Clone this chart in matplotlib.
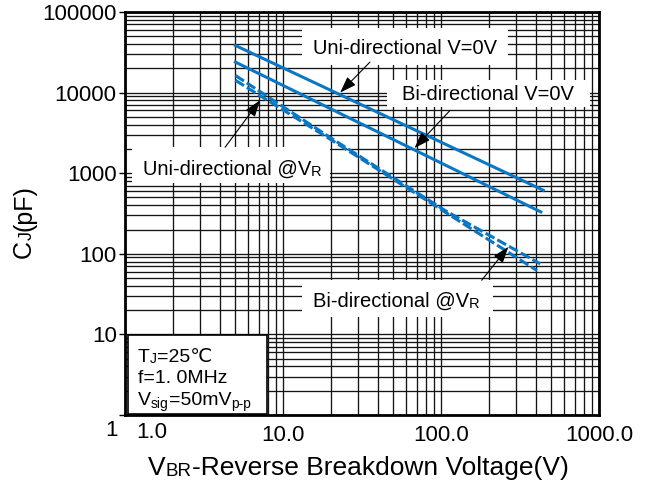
import matplotlib.pyplot as plt
from matplotlib.patches import Rectangle

plt.rcParams['font.family'] = ['Liberation Sans', 'DejaVu Sans']

# Junction capacitance vs breakdown voltage
uni_0v_volt = [5, 444]
uni_0v_cap = [38400, 614]
bi_0v_volt = [5, 428]
bi_0v_cap = [23900, 331]
uni_vr_volt = [5, 20, 106, 425]
uni_vr_cap = [16300, 2750, 345, 75]
bi_vr_volt = [5, 20, 106, 405]
bi_vr_cap = [14200, 2620, 330, 62]

x_ticks = [1, 10, 100, 1000]
x_tick_labels = ['1.0', '10.0', '100.0', '1000.0']
y_ticks = [1, 10, 100, 1000, 10000, 100000]
y_tick_labels = ['1', '10', '100', '1000', '10000', '100000']

BLUE = '#0a77c5'
W, H = 660, 484

fig = plt.figure(figsize=(W / 100, H / 100), dpi=100)
ax = fig.add_axes([125 / W, 1 - 415 / H, 474 / W, 403 / H])
ax.set_xscale('log')
ax.set_yscale('log')
ax.set_xlim(1, 1000)
ax.set_ylim(1, 100000)
ax.set_axisbelow(True)
ax.grid(which='both', color='#141414', lw=0.95)

# the first label on each axis sits off its tick, so it is drawn by hand
ax.set_xticks(x_ticks)
ax.set_xticklabels([''] + x_tick_labels[1:])
ax.set_yticks(y_ticks)
ax.set_yticklabels([''] + y_tick_labels[1:])
ax.tick_params(which='minor', length=0)
ax.tick_params(axis='y', which='major', direction='out', length=4, width=1, pad=2, labelsize=16)
ax.tick_params(axis='x', which='major', length=0, pad=7, labelsize=16)
for sp in ax.spines.values():
    sp.set_linewidth(2)
fig.text(118 / W, 1 - 430 / H, y_tick_labels[0], fontsize=16, ha='right', va='center')
fig.text(152 / W, 1 - 433 / H, x_tick_labels[0], fontsize=16, ha='center', va='center')

ax.plot(uni_0v_volt, uni_0v_cap, color=BLUE, lw=2.2, zorder=3)
ax.plot(bi_0v_volt, bi_0v_cap, color=BLUE, lw=2.2, zorder=3)
ax.plot(uni_vr_volt, uni_vr_cap, color=BLUE, lw=2.2, ls=(0, (3.3, 1.1)), zorder=3)
ax.plot(bi_vr_volt, bi_vr_cap, color=BLUE, lw=2.2, ls=(0, (3.3, 1.1)), zorder=3)


def px_box(x0, y0, x1, y1, edge='none'):
    # white label box given in picture pixels
    r = Rectangle(((x0 - 125) / 474, (415 - y1) / 403), (x1 - x0) / 474, (y1 - y0) / 403,
                  transform=ax.transAxes, facecolor='white', edgecolor=edge, lw=1.2, zorder=2.5)
    ax.add_patch(r)


def rich(x, y, pieces, rotation=0):
    s, size, dy = pieces[0]
    if rotation:
        first = ax.text(x / W, 1 - y / H, s, fontsize=size, rotation=90, ha='right', va='bottom',
                        transform=fig.transFigure, zorder=5)
    else:
        first = ax.text(x / W, 1 - y / H, s, fontsize=size, ha='left', va='baseline',
                        transform=fig.transFigure, zorder=5)
    prev = first
    for s, size, dy in pieces[1:]:
        if rotation:
            prev = ax.annotate(s, xy=(1, 1), xycoords=(first, prev), xytext=(dy, 0),
                               textcoords='offset points', fontsize=size, rotation=90,
                               ha='right', va='bottom', annotation_clip=False, zorder=5)
        else:
            prev = ax.annotate(s, xy=(1, 0), xycoords=(prev, first), xytext=(0, dy),
                               textcoords='offset points', fontsize=size,
                               ha='left', va='bottom', annotation_clip=False, zorder=5)
    return first


def arrow(tail, tip):
    ax.annotate('', xy=tip, xytext=tail, zorder=4,
                arrowprops=dict(arrowstyle='-|>,head_length=1.0,head_width=0.35', color='black',
                                lw=0.8, shrinkA=0, shrinkB=0, mutation_scale=10))


# labels with arrows
px_box(302, 28, 508, 65)
ax.text(405 / W, 1 - 54 / H, 'Uni-directional V=0V', fontsize=14.5, ha='center', va='baseline',
        transform=fig.transFigure, zorder=5)
arrow((35.5, 23900), (23, 10000))

px_box(387, 80, 590, 107)
ax.text(488 / W, 1 - 100 / H, 'Bi-directional V=0V', fontsize=14.5, ha='center', va='baseline',
        transform=fig.transFigure, zorder=5)
arrow((114, 6000), (68, 2050))

px_box(132, 147, 330, 183)
rich(143, 175, [('Uni-directional @V', 14.5, 0), ('R', 10.5, 0)])
arrow((4.3, 2100), (7.15, 8000))

px_box(302, 280, 493, 317)
rich(313, 307, [('Bi-directional @V', 14.5, 0), ('R', 10.5, 0)])
arrow((181, 47), (267, 122))

# test conditions box
px_box(128, 335, 267, 414, edge='black')
rich(138, 362, [('T', 14, 0), ('J', 10, 0), ('=25℃', 14, 0)])
rich(138, 383, [('f=1. 0MHz', 14, 0)])
rich(138, 405, [('V', 14, 0), ('sig', 10, -1.5), ('=50mV', 14, 0), ('p-p', 10, -1.5)])

# axis titles
rich(148, 475, [('V', 19, 0), ('BR', 13.5, 0), ('-Reverse Breakdown Voltage(V)', 19, 0)])
rich(36, 258, [('C', 18, 0), ('J', 13, 0), ('(pF)', 18, 0)], rotation=90)

fig.savefig('out.png', dpi=100)
